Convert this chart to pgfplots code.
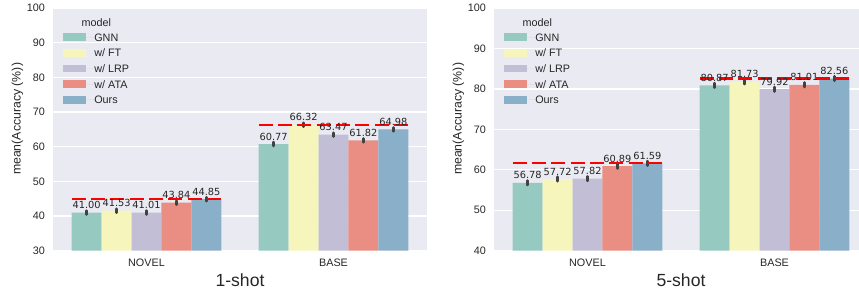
\documentclass[border=0pt]{standalone}
\usepackage{pgfplots}
\pgfplotsset{compat=1.18}
\usepackage{pgfplotstable}
\usepackage{fontspec}
\setmainfont{Liberation Sans}
\newfontfamily\dejavu{DejaVu Sans}
\definecolor{cGNN}{RGB}{150,202,193}
\definecolor{cFT}{RGB}{246,246,188}
\definecolor{cLRP}{RGB}{193,190,214}
\definecolor{cATA}{RGB}{234,142,131}
\definecolor{cOurs}{RGB}{138,175,201}
\definecolor{bgc}{RGB}{234,234,242}
\definecolor{errc}{RGB}{66,66,66}
\definecolor{txtc}{RGB}{38,38,38}

\pgfplotstableread{
x GNN FT LRP ATA Ours
0 41.00 41.53 41.01 43.84 44.85
1 60.77 66.32 63.47 61.82 64.98
}\one
\pgfplotstableread{
x GNN FT LRP ATA Ours
0 56.78 57.72 57.82 60.89 61.59
1 80.87 81.73 79.92 81.01 82.56
}\five

\pgfplotsset{
  panel/.style={
    scale only axis, width=374pt, height=242.7pt,
    xmin=-0.5, xmax=1.5, ymax=100,
    xtick={0,1}, xticklabels={NOVEL,BASE},
    ytick distance=10,
    axis background/.style={fill=bgc},
    axis line style={draw=none},
    major tick length=0pt,
    ymajorgrids, grid style={white, line width=1.3pt},
    tick label style={font=\fontsize{10.8}{13}\selectfont, inner sep=0pt, text=txtc},
    xticklabel style={anchor=north, yshift=-8.3pt},
    yticklabel style={anchor=east, xshift=-8pt},
    /pgf/number format/assume math mode=true,
    ylabel={mean(Accuracy (\%))},
    ylabel style={font=\fontsize{12.3}{14}\selectfont, at={([xshift=-35.5pt]axis description cs:0,0.543)}, anchor=center, inner sep=0pt, text=txtc},
    xlabel style={font=\fontsize{17.6}{20}\selectfont, at={(axis description cs:0.5,0)}, anchor=north, yshift=-22.6pt, inner sep=0pt, text=txtc},
    legend style={at={(axis description cs:0,1)}, anchor=north west, xshift=10pt, yshift=-21.4pt,
      draw=none, fill=none, inner sep=0pt, outer sep=0pt,
      font=\fontsize{10.8}{13}\selectfont, text=txtc,
      nodes={inner sep=0pt, text height=11.7pt, text depth=3.95pt}, row sep=0pt},
    legend cell align=left,
    legend image code/.code={\fill[##1] (0pt,-3.85pt) rectangle (22.7pt,3.85pt); \path (0pt,0pt) -- (31.3pt,0pt);},
  },
  bars/.style={ybar, bar width=0.16, bar shift=0pt, draw=none,
    error bars/y dir=both, error bars/y fixed=0.55, error bars/error mark=none,
    error bars/error bar style={line width=2.7pt, color=errc, line cap=round}},
  labs/.style={ybar, bar width=0.16, bar shift=0pt, draw=none, fill=none, forget plot,
    nodes near coords={\pgfmathprintnumber[fixed,fixed zerofill,precision=2,assume math mode=true]{\pgfplotspointmeta}},
    every node near coord/.append style={font=\dejavu\fontsize{9.8}{11}\selectfont, anchor=base, inner sep=0pt, yshift=4pt, text=txtc}},
  best/.style={sharp plot, red, line width=2.2pt, dash pattern=on 14pt off 5.3pt, forget plot},
}

\begin{document}
\begin{tikzpicture}
\path[use as bounding box, clip] (0,0) rectangle (859pt,292pt);
\begin{axis}[panel, at={(53pt,41.3pt)}, anchor=south west, ymin=30, xlabel={1-shot}]
\addplot[bars, fill=cGNN] table[x expr=\thisrow{x}-0.32,y=GNN]{\one}; \addlegendentry{GNN}
\addplot[bars, fill=cFT] table[x expr=\thisrow{x}-0.16,y=FT]{\one}; \addlegendentry{w/ FT}
\addplot[bars, fill=cLRP] table[x expr=\thisrow{x},y=LRP]{\one}; \addlegendentry{w/ LRP}
\addplot[bars, fill=cATA] table[x expr=\thisrow{x}+0.16,y=ATA]{\one}; \addlegendentry{w/ ATA}
\addplot[bars, fill=cOurs] table[x expr=\thisrow{x}+0.32,y=Ours]{\one}; \addlegendentry{Ours}
\addplot[best] coordinates {(-0.4,44.85) (0.4,44.85)};
\addplot[best] coordinates {(0.6,66.32) (1.4,66.32)};
\addplot[labs] table[x expr=\thisrow{x}-0.32,y=GNN]{\one};
\addplot[labs] table[x expr=\thisrow{x}-0.16,y=FT]{\one};
\addplot[labs] table[x expr=\thisrow{x},y=LRP]{\one};
\addplot[labs] table[x expr=\thisrow{x}+0.16,y=ATA]{\one};
\addplot[labs] table[x expr=\thisrow{x}+0.32,y=Ours]{\one};
\node[font=\fontsize{10.8}{13}\selectfont, text=txtc, inner sep=0pt] at ([xshift=43.4pt,yshift=-15pt]axis description cs:0,1) {model};
\end{axis}
\begin{axis}[panel, at={(494pt,41.3pt)}, anchor=south west, ymin=40, xlabel={5-shot}]
\addplot[bars, fill=cGNN] table[x expr=\thisrow{x}-0.32,y=GNN]{\five}; \addlegendentry{GNN}
\addplot[bars, fill=cFT] table[x expr=\thisrow{x}-0.16,y=FT]{\five}; \addlegendentry{w/ FT}
\addplot[bars, fill=cLRP] table[x expr=\thisrow{x},y=LRP]{\five}; \addlegendentry{w/ LRP}
\addplot[bars, fill=cATA] table[x expr=\thisrow{x}+0.16,y=ATA]{\five}; \addlegendentry{w/ ATA}
\addplot[bars, fill=cOurs] table[x expr=\thisrow{x}+0.32,y=Ours]{\five}; \addlegendentry{Ours}
\addplot[best] coordinates {(-0.4,61.59) (0.4,61.59)};
\addplot[best] coordinates {(0.6,82.56) (1.4,82.56)};
\addplot[labs] table[x expr=\thisrow{x}-0.32,y=GNN]{\five};
\addplot[labs] table[x expr=\thisrow{x}-0.16,y=FT]{\five};
\addplot[labs] table[x expr=\thisrow{x},y=LRP]{\five};
\addplot[labs] table[x expr=\thisrow{x}+0.16,y=ATA]{\five};
\addplot[labs] table[x expr=\thisrow{x}+0.32,y=Ours]{\five};
\node[font=\fontsize{10.8}{13}\selectfont, text=txtc, inner sep=0pt] at ([xshift=43.4pt,yshift=-15pt]axis description cs:0,1) {model};
\end{axis}
\end{tikzpicture}
\end{document}
